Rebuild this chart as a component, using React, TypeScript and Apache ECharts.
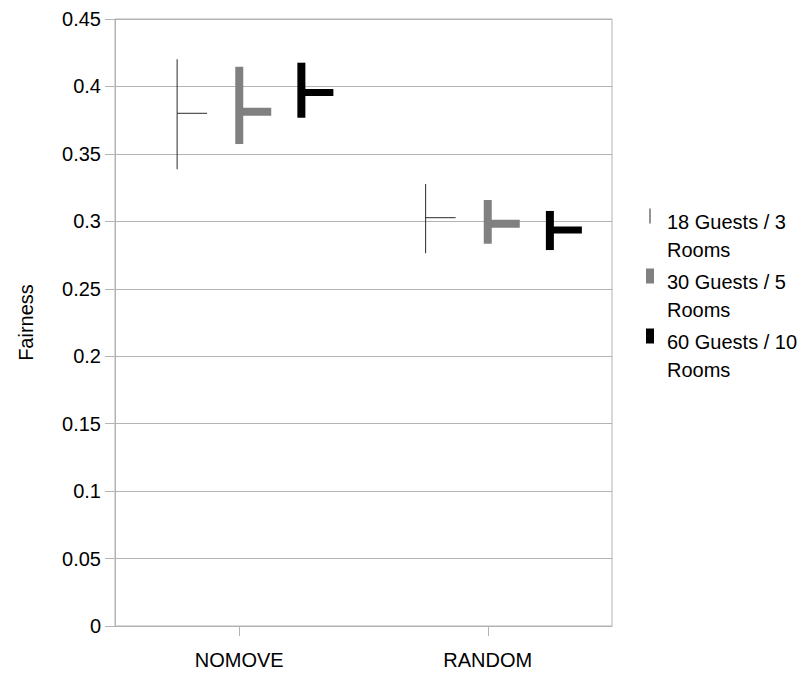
import React, { useEffect, useRef } from 'react';
import * as echarts from 'echarts';

// Categories on the x axis
const categories = ['NOMOVE', 'RANDOM'];

// Series names shown in the legend
const seriesNames = ['18 Guests / 3 Rooms', '30 Guests / 5 Rooms', '60 Guests / 10 Rooms'];

// Fairness: low / high / close per category, one set per series
const low18 = [0.3386, 0.2763];
const high18 = [0.4201, 0.3277];
const close18 = [0.3801, 0.3027];

const low30 = [0.3573, 0.2834];
const high30 = [0.4146, 0.3158];
const close30 = [0.3813, 0.2982];

const low60 = [0.3768, 0.2787];
const high60 = [0.4176, 0.3077];
const close60 = [0.3955, 0.2936];

// Y axis range
const yMin = 0;
const yMax = 0.45;
const yStep = 0.05;

const FONT = '"Liberation Sans", Arial, sans-serif';
const GRID_COLOR = '#b3b3b3';
const FONT_SIZE = 20;

type Style = { offset: number; width: number; tickLen: number; tickThick: number; color: string };

const styles: Style[] = [
  { offset: -0.25, width: 1, tickLen: 30, tickThick: 1, color: '#2a2a2a' },
  { offset: 0, width: 8, tickLen: 32, tickThick: 8, color: '#808080' },
  { offset: 0.25, width: 8, tickLen: 32, tickThick: 7, color: '#000000' },
];

// Vertical low-high stroke with a close tick pointing right
const makeRender = (s: Style) => (params: any, api: any) => {
  const c = api.value(0);
  const lo = api.coord([c, api.value(1)]);
  const hi = api.coord([c, api.value(2)]);
  const cl = api.coord([c, api.value(3)]);
  const band = api.size([1, 0])[0];
  const cx = lo[0] + band * s.offset;
  return {
    type: 'group',
    children: [
      {
        type: 'rect',
        shape: { x: cx - s.width / 2, y: hi[1], width: s.width, height: lo[1] - hi[1] },
        style: { fill: s.color },
      },
      {
        type: 'rect',
        shape: { x: cx, y: cl[1] - s.tickThick / 2, width: s.tickLen, height: s.tickThick },
        style: { fill: s.color },
      },
    ],
  };
};

const build = (lows: number[], highs: number[], closes: number[]) =>
  categories.map((_, i) => [i, lows[i], highs[i], closes[i]]);

const seriesData = [
  build(low18, high18, close18),
  build(low30, high30, close30),
  build(low60, high60, close60),
];

const legendIcons = ['path://M0,0h1v15h-1z', 'rect', 'rect'];

// Two-line legend label; a spacer line on top keeps the first line near the swatch
const legendLabel = (name: string) => {
  const idx = name.lastIndexOf(' ');
  const first = name.slice(0, idx);
  const second = name.slice(idx + 1);
  return `{gap| }\n{t|${first}}\n{t|${second}}`;
};

export default function App() {
  const ref = useRef<HTMLDivElement>(null);

  useEffect(() => {
    if (!ref.current) return;
    const chart = echarts.init(ref.current, undefined, { renderer: 'svg' });
    chart.setOption({
      animation: false,
      backgroundColor: '#ffffff',
      textStyle: { fontFamily: FONT },
      grid: {
        left: 115,
        right: 199,
        top: 19,
        bottom: 47,
        show: true,
        borderColor: GRID_COLOR,
        borderWidth: 1,
        backgroundColor: 'transparent',
      },
      legend: {
        orient: 'vertical',
        left: 641,
        top: 181,
        itemWidth: 8,
        itemHeight: 15,
        itemGap: -14,
        selectedMode: false,
        formatter: legendLabel,
        textStyle: {
          fontFamily: FONT,
          fontSize: FONT_SIZE,
          color: '#000',
          rich: {
            gap: { fontSize: 4, lineHeight: 40, fontFamily: FONT },
            t: { fontSize: FONT_SIZE, lineHeight: 28, color: '#000', fontFamily: FONT, padding: [0, 0, 0, 8] },
          },
        },
        data: seriesNames.map((n, i) => ({
          name: n,
          icon: legendIcons[i],
          itemStyle: { color: styles[i].color },
        })),
      },
      xAxis: {
        type: 'category',
        data: categories,
        boundaryGap: true,
        axisLine: { show: true, lineStyle: { color: GRID_COLOR, width: 1 } },
        axisTick: { show: true, alignWithLabel: true, length: 10, lineStyle: { color: GRID_COLOR } },
        axisLabel: { fontFamily: FONT, fontSize: FONT_SIZE, color: '#000', margin: 24 },
        splitLine: { show: false },
      },
      yAxis: {
        type: 'value',
        min: yMin,
        max: yMax,
        interval: yStep,
        name: 'Fairness',
        nameLocation: 'middle',
        nameGap: 79,
        nameTextStyle: { fontFamily: FONT, fontSize: FONT_SIZE, color: '#000' },
        axisLine: { show: true, lineStyle: { color: GRID_COLOR, width: 1 } },
        axisTick: { show: true, length: 10, lineStyle: { color: GRID_COLOR } },
        axisLabel: {
          fontFamily: FONT,
          fontSize: FONT_SIZE,
          color: '#000',
          margin: 14,
          formatter: (v: number) => String(parseFloat(v.toFixed(2))),
        },
        splitLine: { show: true, lineStyle: { color: GRID_COLOR, width: 1 } },
      },
      series: seriesNames.map((n, i) => ({
        type: 'custom',
        name: n,
        itemStyle: { color: styles[i].color },
        renderItem: makeRender(styles[i]),
        encode: { x: 0, y: [1, 2, 3] },
        data: seriesData[i],
      })),
    });
    return () => chart.dispose();
  }, []);

  return (
    <div
      ref={ref}
      style={{ position: 'fixed', left: 0, top: 0, width: 811, height: 673, background: '#fff' }}
    />
  );
}
